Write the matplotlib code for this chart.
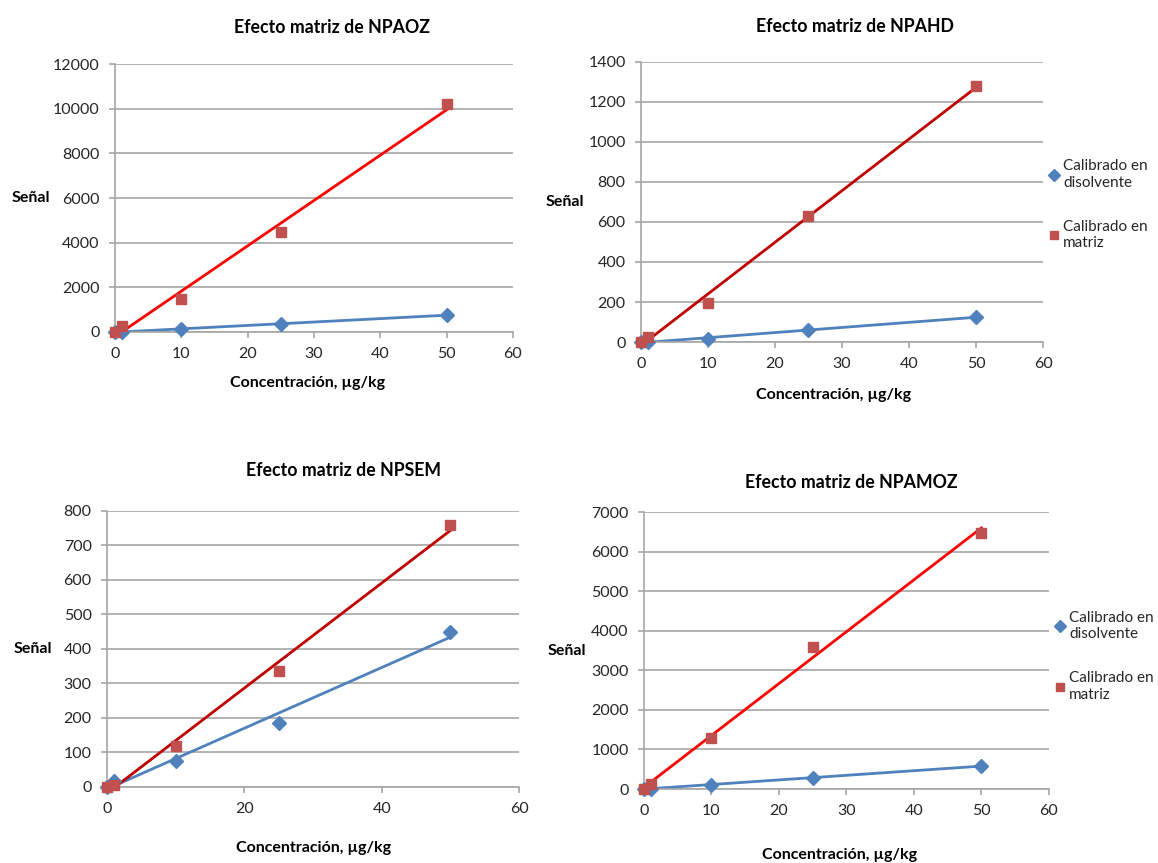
import numpy as np
import matplotlib
matplotlib.use('Agg')
import matplotlib.pyplot as plt

plt.rcParams['font.family'] = ['Lato', 'DejaVu Sans']

conc = [0, 1, 10, 25, 50]

# NPAOZ
npaoz_disolv = [0, 5, 130, 360, 760]
npaoz_matriz = [0, 250, 1500, 4500, 10200]
# NPAHD
npahd_disolv = [0, 0, 15, 60, 125]
npahd_matriz = [0, 25, 195, 630, 1280]
# NPSEM
npsem_disolv = [0, 18, 75, 185, 450]
npsem_matriz = [0, 5, 120, 335, 760]
# NPAMOZ
npamoz_disolv = [0, 10, 110, 290, 580]
npamoz_matriz = [0, 130, 1300, 3580, 6480]

BLUE = '#4F81BD'
RED_MK = '#C0504D'
GRID = '#A6A6A6'

fig = plt.figure(figsize=(11.58, 8.63), dpi=100)

panels = [
    # title, disolv, matriz, ymax, ystep, xstep, trend color, axes rect, title pos, xlabel pos, ylabel x, legend y
    ('Efecto matriz de NPAOZ', npaoz_disolv, npaoz_matriz, 12000, 2000, 10, '#FF0000',
     [0.0993, 0.6153, 0.3437, 0.3105], (0.545, 1.138), (0.485, -0.19), -0.163, None),
    ('Efecto matriz de NPAHD', npahd_disolv, npahd_matriz, 1400, 200, 10, '#C00000',
     [0.5535, 0.6037, 0.3472, 0.3245], (0.532, 1.125), (0.478, -0.19), -0.142, 0.49),
    ('Efecto matriz de NPSEM', npsem_disolv, npsem_matriz, 800, 100, 20, '#C00000',
     [0.0924, 0.0881, 0.3558, 0.3198], (0.573, 1.145), (0.502, -0.221), -0.133, None),
    ('Efecto matriz de NPAMOZ', npamoz_disolv, npamoz_matriz, 7000, 1000, 10, '#FF0000',
     [0.5561, 0.0857, 0.3497, 0.3210], (0.511, 1.108), (0.484, -0.238), -0.143, 0.48),
]

for title, dis, mat, ymax, ystep, xstep, tcol, rect, tpos, xlpos, ylx, legy in panels:
    ax = fig.add_axes(rect)
    x = np.array(conc, dtype=float)
    xr = np.array([x.min(), x.max()])

    # linear trendlines (least squares, like the spreadsheet)
    pb = np.polyfit(x, dis, 1)
    pr = np.polyfit(x, mat, 1)
    ax.plot(xr, np.polyval(pb, xr), color=BLUE, lw=2, zorder=2)
    ax.plot(xr, np.polyval(pr, xr), color=tcol, lw=2, zorder=2)

    h1, = ax.plot(x, dis, 'D', color=BLUE, ms=7.5, ls='none', clip_on=False, zorder=3,
                  label='Calibrado en\ndisolvente')
    h2, = ax.plot(x, mat, 's', color=RED_MK, ms=7.5, ls='none', clip_on=False, zorder=3,
                  label='Calibrado en\nmatriz')

    ax.set_xlim(0, 60)
    ax.set_ylim(0, ymax)
    ax.set_xticks(np.arange(0, 61, xstep))
    ax.set_yticks(np.arange(0, ymax + 1, ystep))
    ax.yaxis.grid(True, color=GRID, lw=1.2)
    ax.set_axisbelow(True)
    for s in ['top', 'right']:
        ax.spines[s].set_visible(False)
    for s in ['left', 'bottom']:
        ax.spines[s].set_color(GRID)
        ax.spines[s].set_linewidth(1.2)
    ax.tick_params(axis='both', direction='out', length=4, width=1.2, color=GRID,
                   labelsize=11.5, labelcolor='#262626')
    ax.tick_params(axis='x', pad=7)
    ax.tick_params(axis='y', pad=7)

    ax.text(tpos[0], tpos[1], title, transform=ax.transAxes, ha='center', va='center',
            fontsize=12.8, fontweight='bold')
    ax.set_xlabel('Concentración, µg/kg', fontsize=11.5, fontweight='bold', va='center')
    ax.xaxis.set_label_coords(*xlpos)
    ax.set_ylabel('Señal', fontsize=11.5, fontweight='bold', rotation=0, ha='right', va='center')
    ax.yaxis.set_label_coords(ylx, 0.5)

    if legy is not None:
        ax.legend(handles=[h1, h2], loc='center left', bbox_to_anchor=(1.018, legy),
                  frameon=False, fontsize=11, handlelength=0.5, handletextpad=0.35,
                  labelspacing=2.0, markerscale=0.75, labelcolor='#262626',
                  borderpad=0, borderaxespad=0)

fig.savefig('out.png', dpi=100)
